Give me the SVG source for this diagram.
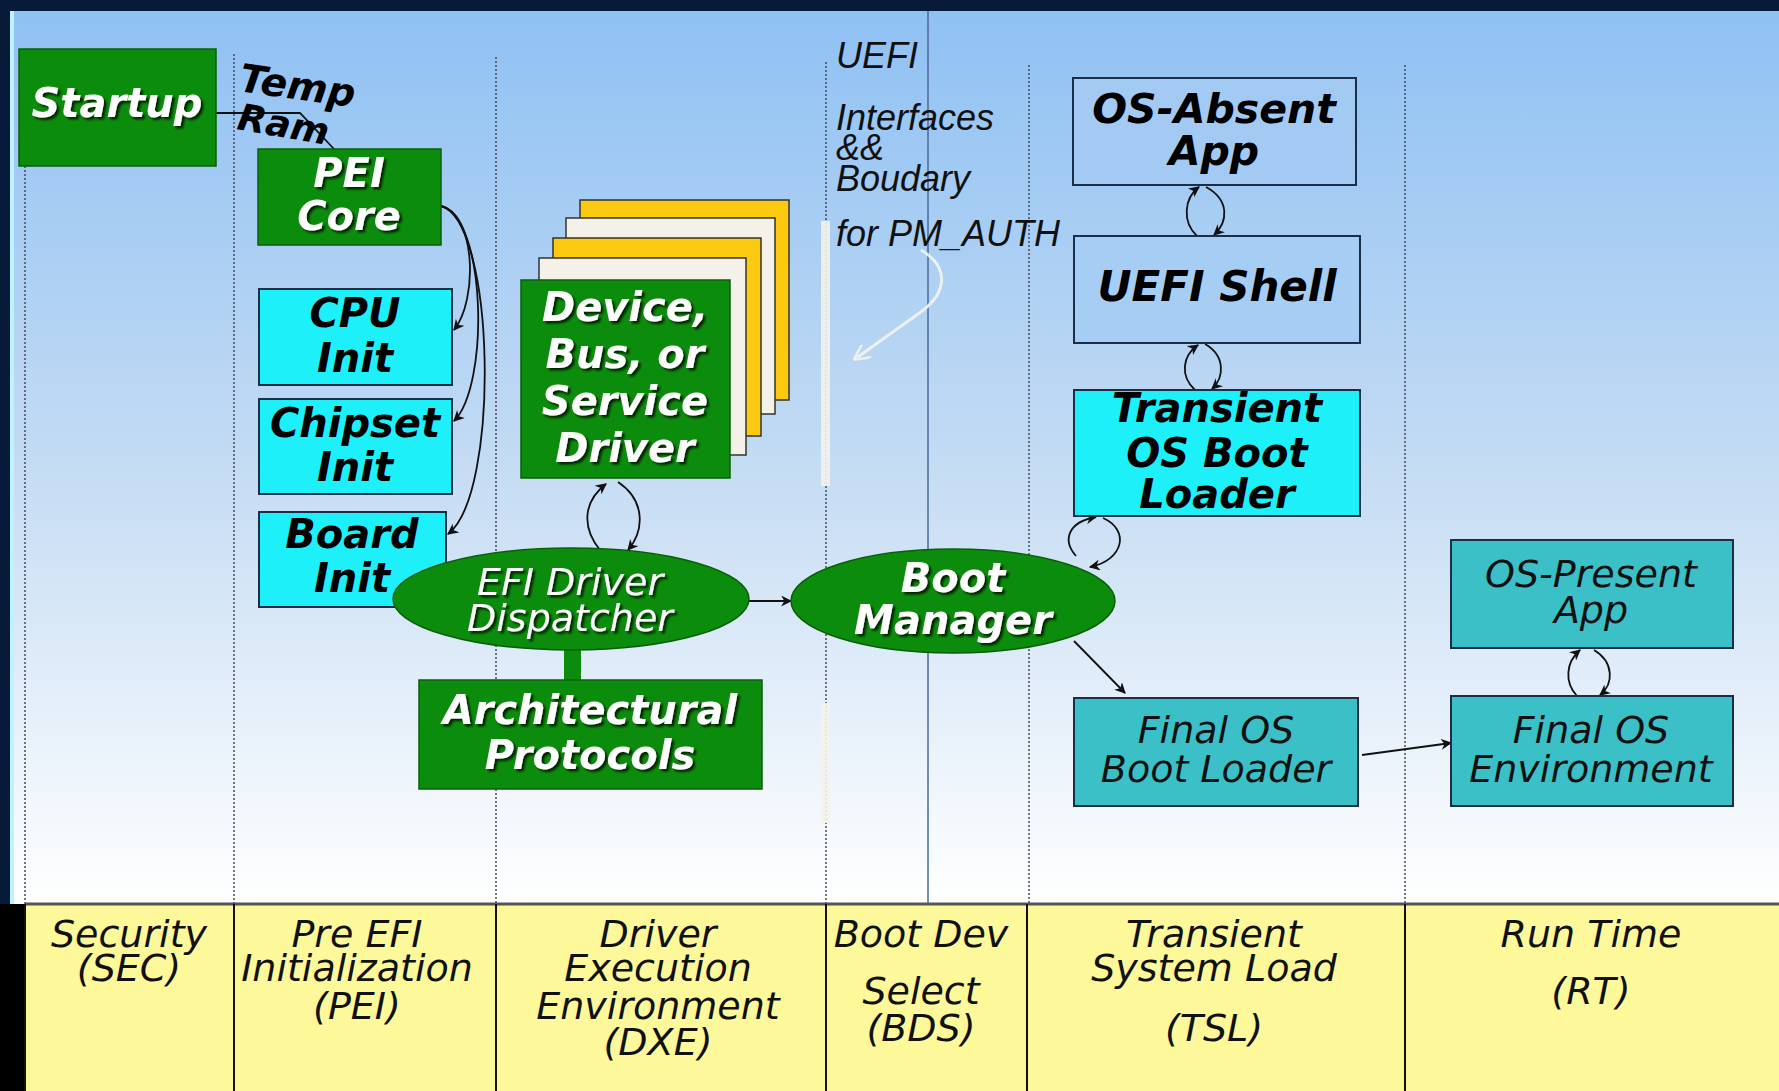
<svg xmlns="http://www.w3.org/2000/svg" width="1779" height="1091" viewBox="0 0 1779 1091">
<defs>
<linearGradient id="bg" x1="0" y1="0" x2="0" y2="1">
<stop offset="0" stop-color="#8fc1f3"/>
<stop offset="0.5" stop-color="#c3dbf3"/>
<stop offset="1" stop-color="#ffffff"/>
</linearGradient>
<filter id="sh" x="-10%" y="-20%" width="130%" height="150%">
<feDropShadow dx="2.5" dy="2.5" stdDeviation="0.8" flood-color="#000" flood-opacity="0.75"/>
</filter>
<marker id="ah" viewBox="0 0 10 10" refX="9" refY="5" markerWidth="11" markerHeight="11" orient="auto" markerUnits="userSpaceOnUse">
<path d="M0,0 L10,5 L0,10 L3,5 z" fill="#111"/>
</marker>
<marker id="ahw" viewBox="0 0 10 10" refX="9" refY="5" markerWidth="16" markerHeight="16" orient="auto" markerUnits="userSpaceOnUse">
<path d="M0,0 L10,5 L0,10" fill="none" stroke="#f4f4f0" stroke-width="1.6"/>
</marker>
</defs>
<style>
.grn{fill:#0c8c0c;stroke:#0a5e0a;stroke-width:1.5}
.cyn{fill:#1ef0fa;stroke:#1a2e48;stroke-width:2}
.teal{fill:#3cc0c8;stroke:#1a2e48;stroke-width:2}
.lb{fill:#a2caf2;stroke:#1a2e48;stroke-width:2}
.ylw{fill:#fbc90f;stroke:#333;stroke-width:1.5}
.wht{fill:#f3f1e8;stroke:#333;stroke-width:1.5}
.dash{stroke:#4a4a5a;stroke-width:1.5;stroke-dasharray:2 2;fill:none}
.div{stroke:#111;stroke-width:2}
.bw{font-family:"DejaVu Sans",sans-serif;font-weight:bold;font-style:italic;font-size:40px;fill:#fff;text-anchor:middle;filter:url(#sh)}
.bb{font-family:"DejaVu Sans",sans-serif;font-weight:bold;font-style:italic;font-size:40px;fill:#000;text-anchor:middle}
.it{font-family:"DejaVu Sans",sans-serif;font-style:italic;font-size:38px;fill:#111;text-anchor:middle}
.itw{font-family:"DejaVu Sans",sans-serif;font-style:italic;font-size:38px;fill:#fff;text-anchor:middle;filter:url(#sh)}
.ar{font-family:"Liberation Sans",Arial,sans-serif;font-style:italic;font-size:36px;fill:#111}
.con{fill:none;stroke:#111;stroke-width:1.8}
</style>

<!-- background -->
<rect x="0" y="0" width="1779" height="1091" fill="#071a3a"/>
<rect x="10" y="11" width="1769" height="893" fill="url(#bg)"/>
<rect x="10" y="11" width="4" height="893" fill="#bdf3fb"/>
<rect x="0" y="904" width="25" height="187" fill="#000"/>
<rect x="25" y="904" width="1754" height="187" fill="#fdf99b"/>
<line x1="25" y1="904" x2="1779" y2="904" stroke="#555" stroke-width="3"/>

<!-- column lines -->
<g id="columns">
<line class="dash" x1="25" y1="166" x2="25" y2="904"/>
<line class="dash" x1="234" y1="54" x2="234" y2="904"/>
<line class="dash" x1="496" y1="57" x2="496" y2="904"/>
<line class="dash" x1="826" y1="62" x2="826" y2="904"/>
<line class="dash" x1="1029" y1="65" x2="1029" y2="904"/>
<line class="dash" x1="1405" y1="65" x2="1405" y2="904"/>
<line x1="928" y1="11" x2="928" y2="904" stroke="#4a6a9a" stroke-width="1.5"/>
<line class="div" x1="25" y1="904" x2="25" y2="1091"/>
<line class="div" x1="234" y1="904" x2="234" y2="1091"/>
<line class="div" x1="496" y1="904" x2="496" y2="1091"/>
<line class="div" x1="826" y1="904" x2="826" y2="1091"/>
<line class="div" x1="1027" y1="904" x2="1027" y2="1091"/>
<line class="div" x1="1405" y1="904" x2="1405" y2="1091"/>
<rect x="821" y="221" width="9" height="265" fill="#f4f2ea" opacity="0.9"/>
<rect x="821" y="703" width="9" height="120" fill="#f4f2ea" opacity="0.9"/>
</g>

<!-- UEFI boundary label -->
<g id="uefi-label">
<text class="ar" x="836" y="68">UEFI</text>
<text class="ar" x="836" y="130">Interfaces</text>
<text class="ar" x="836" y="160">&amp;&amp;</text>
<text class="ar" x="836" y="191">Boudary</text>
<text class="ar" x="836" y="246">for PM_AUTH</text>
</g>

<!-- connectors -->
<g id="connectors">
<path class="con" d="M216,113 L300,113 L334,149" stroke="#333"/>
<path class="con" d="M441,206 C476,214 478,300 454,330" marker-end="url(#ah)"/>
<path class="con" d="M441,206 C486,216 490,385 454,421" marker-end="url(#ah)"/>
<path class="con" d="M441,206 C496,222 500,495 448,534" marker-end="url(#ah)"/>
<path class="con" d="M600,550 C580,525 585,500 606,484" marker-end="url(#ah)"/>
<path class="con" d="M618,482 C645,500 645,530 628,550" marker-end="url(#ah)"/>
<path class="con" d="M749,601 L791,601" marker-end="url(#ah)"/>
<path class="con" d="M1076,556 C1062,540 1068,522 1096,517" marker-end="url(#ah)"/>
<path class="con" d="M1103,518 C1130,530 1124,560 1090,567" marker-end="url(#ah)"/>
<path class="con" d="M1074,641 L1125,693" marker-end="url(#ah)"/>
<path class="con" d="M1362,755 L1451,743" marker-end="url(#ah)"/>
<path class="con" d="M1197,236 C1182,222 1184,198 1199,187" marker-end="url(#ah)"/>
<path class="con" d="M1206,187 C1230,200 1228,222 1214,235" marker-end="url(#ah)"/>
<path class="con" d="M1195,390 C1180,376 1182,356 1198,345" marker-end="url(#ah)"/>
<path class="con" d="M1205,344 C1226,356 1224,378 1212,389" marker-end="url(#ah)"/>
<path class="con" d="M1577,696 C1564,682 1566,662 1580,650" marker-end="url(#ah)"/>
<path class="con" d="M1594,650 C1614,662 1614,684 1600,695" marker-end="url(#ah)"/>
<path d="M921,250 C948,266 950,292 918,314 L855,359" fill="none" stroke="#f4f4f0" stroke-width="3" opacity="0.9" marker-end="url(#ahw)"/>
<rect x="564" y="645" width="17" height="36" fill="#0c8c0c"/>
</g>

<!-- nodes -->
<g id="startup">
<rect class="grn" x="19" y="49" width="197" height="117"/>
<text class="bw" x="117" y="117">Startup</text>
</g>
<g id="temp-ram">
<text class="bb" x="238" y="91" style="text-anchor:start;font-size:39px" transform="rotate(8 238 91)">Temp</text>
<text class="bb" x="236" y="129" style="text-anchor:start;font-size:37px" transform="rotate(10 236 129)">Ram</text>
</g>
<g id="pei-core">
<rect class="grn" x="258" y="149" width="183" height="96"/>
<text class="bw" x="349" y="187">PEI</text>
<text class="bw" x="349" y="230">Core</text>
</g>
<g id="cpu-init">
<rect class="cyn" x="259" y="289" width="193" height="96"/>
<text class="bb" x="355" y="327">CPU</text>
<text class="bb" x="355" y="372">Init</text>
</g>
<g id="chipset-init">
<rect class="cyn" x="259" y="399" width="193" height="95"/>
<text class="bb" x="355" y="437">Chipset</text>
<text class="bb" x="355" y="481">Init</text>
</g>
<g id="board-init">
<rect class="cyn" x="259" y="512" width="187" height="95"/>
<text class="bb" x="352" y="548">Board</text>
<text class="bb" x="352" y="592">Init</text>
</g>
<g id="driver-stack">
<rect class="ylw" x="580" y="200" width="209" height="200"/>
<rect class="wht" x="566" y="218" width="209" height="196"/>
<rect class="ylw" x="553" y="238" width="208" height="198"/>
<rect class="wht" x="539" y="258" width="207" height="197"/>
<rect class="grn" x="521" y="280" width="209" height="198" stroke="#2a3a2a"/>
<text class="bw" x="625" y="321">Device,</text>
<text class="bw" x="625" y="368">Bus, or</text>
<text class="bw" x="625" y="415">Service</text>
<text class="bw" x="625" y="462">Driver</text>
</g>
<g id="dispatcher">
<ellipse class="grn" cx="571" cy="599" rx="178" ry="51"/>
<text class="itw" x="570" y="595">EFI Driver</text>
<text class="itw" x="570" y="631">Dispatcher</text>
</g>
<g id="arch-protocols">
<rect class="grn" x="419" y="680" width="343" height="109"/>
<text class="bw" x="590" y="724">Architectural</text>
<text class="bw" x="590" y="769">Protocols</text>
</g>
<g id="boot-manager">
<ellipse class="grn" cx="953" cy="601" rx="162" ry="52"/>
<text class="bw" x="953" y="592">Boot</text>
<text class="bw" x="953" y="634">Manager</text>
</g>
<g id="os-absent">
<rect class="lb" x="1073" y="78" width="283" height="107"/>
<text class="bb" x="1214" y="123" style="font-size:41px">OS-Absent</text>
<text class="bb" x="1214" y="165" style="font-size:41px">App</text>
</g>
<g id="uefi-shell">
<rect class="lb" x="1074" y="236" width="286" height="107" style="fill:#a6cef5"/>
<text class="bb" x="1217" y="301" style="font-size:42px">UEFI Shell</text>
</g>
<g id="transient-loader">
<rect class="cyn" x="1074" y="390" width="286" height="126"/>
<text class="bb" x="1217" y="422">Transient</text>
<text class="bb" x="1217" y="467">OS Boot</text>
<text class="bb" x="1217" y="508">Loader</text>
</g>
<g id="final-loader">
<rect class="teal" x="1074" y="698" width="284" height="108"/>
<text class="it" x="1216" y="743">Final OS</text>
<text class="it" x="1216" y="782">Boot Loader</text>
</g>
<g id="os-present">
<rect class="teal" x="1451" y="540" width="282" height="108"/>
<text class="it" x="1591" y="587">OS-Present</text>
<text class="it" x="1591" y="623">App</text>
</g>
<g id="final-env">
<rect class="teal" x="1451" y="696" width="282" height="110"/>
<text class="it" x="1591" y="743">Final OS</text>
<text class="it" x="1591" y="782">Environment</text>
</g>

<!-- phase labels -->
<g id="phases">
<text class="it" x="129" y="947">Security</text>
<text class="it" x="129" y="981">(SEC)</text>
<text class="it" x="357" y="947">Pre EFI</text>
<text class="it" x="357" y="981">Initialization</text>
<text class="it" x="357" y="1019">(PEI)</text>
<text class="it" x="658" y="947">Driver</text>
<text class="it" x="658" y="981">Execution</text>
<text class="it" x="658" y="1019">Environment</text>
<text class="it" x="658" y="1055">(DXE)</text>
<text class="it" x="921" y="947">Boot Dev</text>
<text class="it" x="921" y="1004">Select</text>
<text class="it" x="921" y="1041">(BDS)</text>
<text class="it" x="1214" y="947">Transient</text>
<text class="it" x="1214" y="981">System Load</text>
<text class="it" x="1214" y="1041">(TSL)</text>
<text class="it" x="1591" y="947">Run Time</text>
<text class="it" x="1591" y="1004">(RT)</text>
</g>
</svg>
